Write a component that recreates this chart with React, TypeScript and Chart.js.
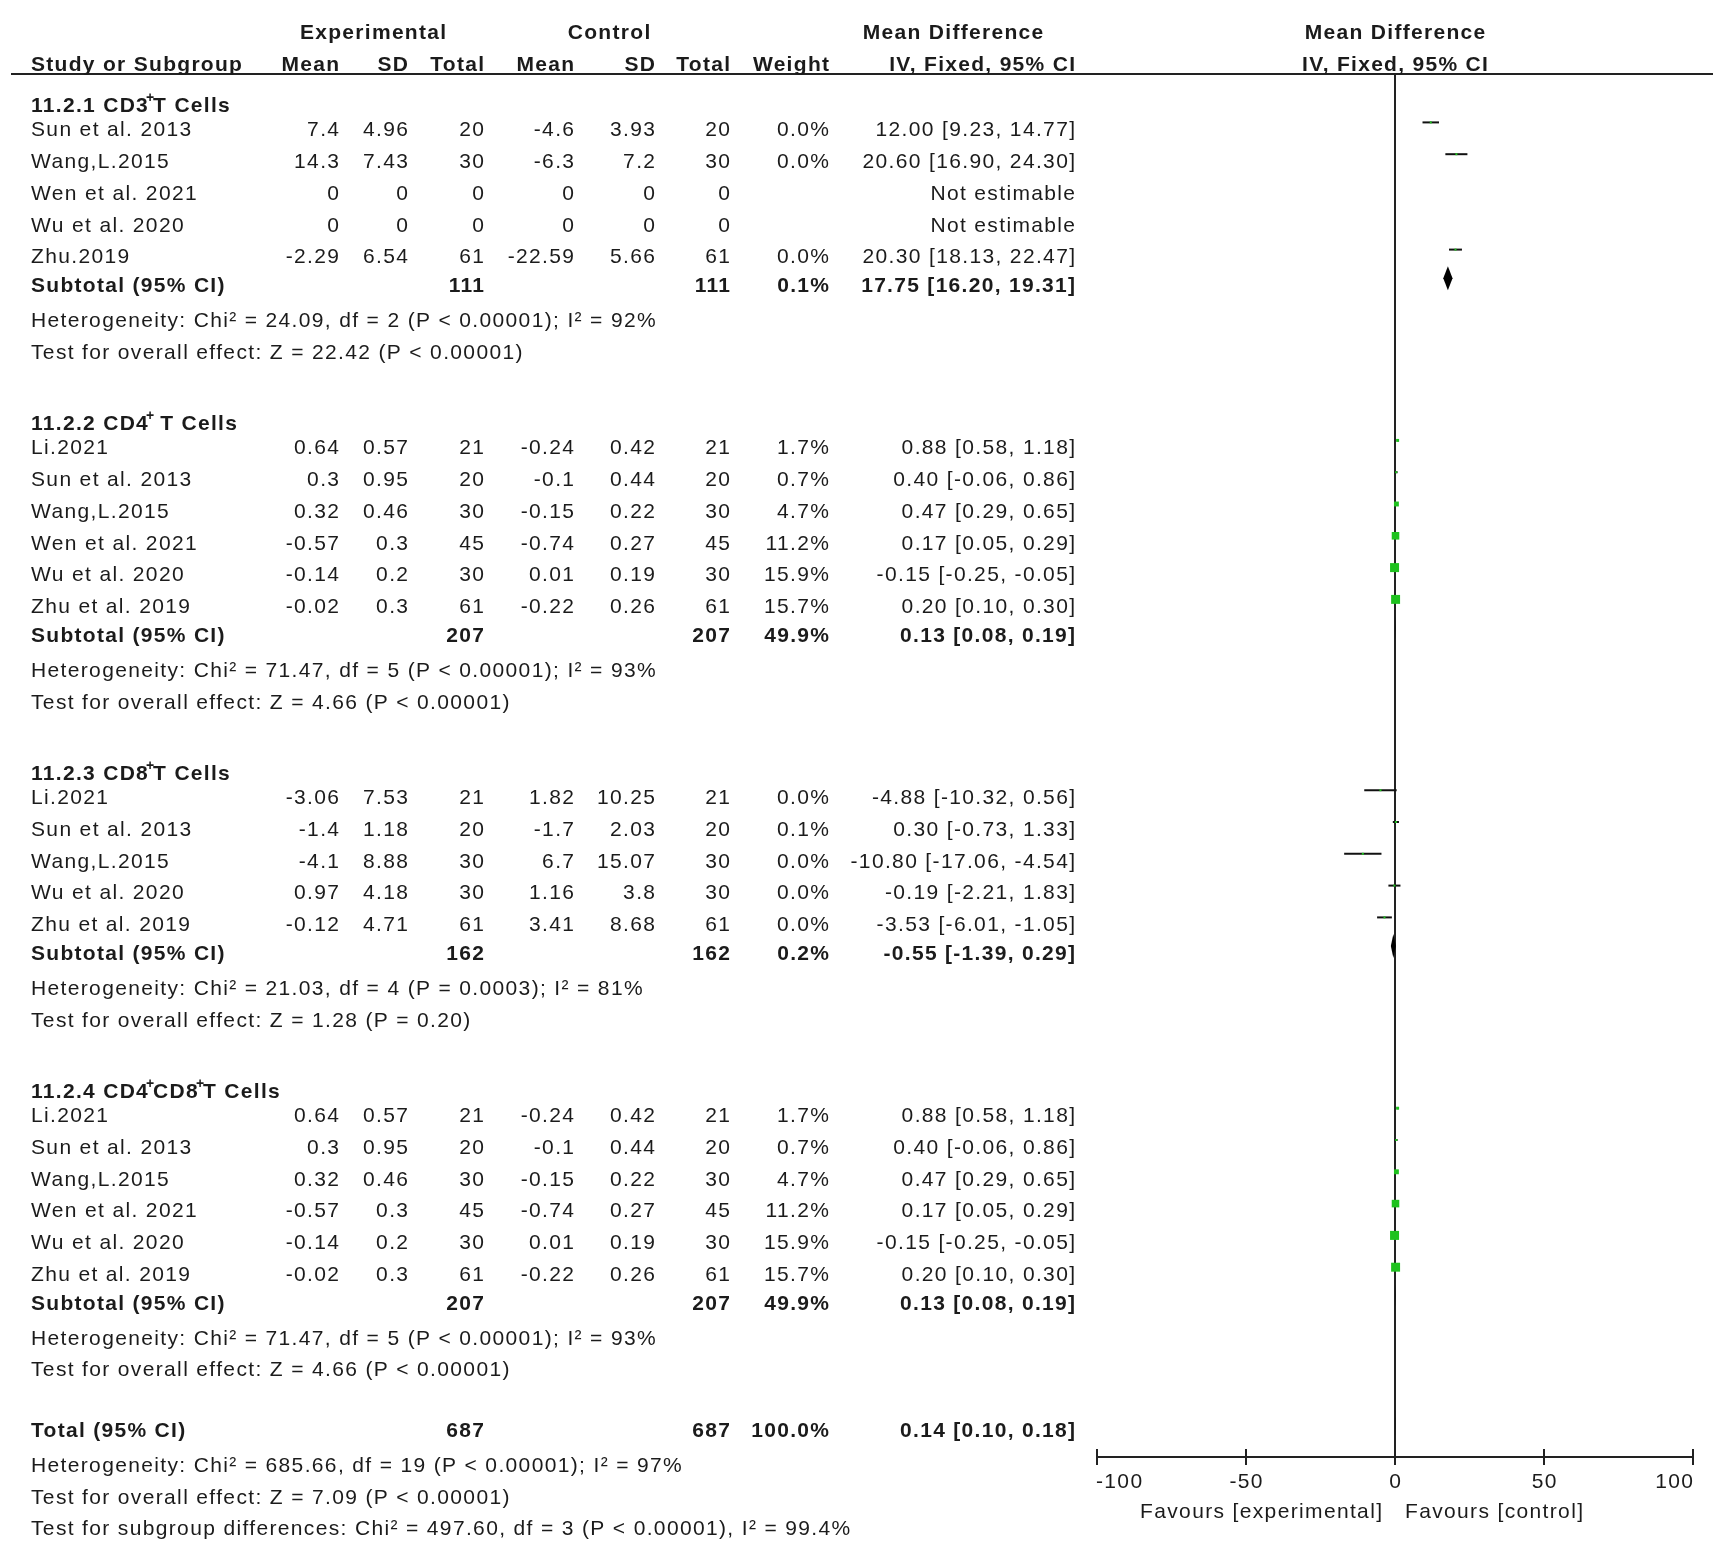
import React, { useEffect, useRef } from "react";
import { Chart, registerables } from "chart.js";

Chart.register(...registerables);

// ---------------- axis ----------------
const AXIS_TICKS = [-100, -50, 0, 50, 100];
const AXIS_LEFT_LABEL = "Favours [experimental]";
const AXIS_RIGHT_LABEL = "Favours [control]";

// ---------------- group 1 ----------------
const G1_TITLE = "11.2.1 CD3^T Cells";
const G1_NAMES = ["Sun et al. 2013", "Wang,L.2015", "Wen et al. 2021", "Wu et al. 2020", "Zhu.2019"];
const G1_EXP_MEAN = [7.4, 14.3, 0, 0, -2.29];
const G1_EXP_SD = [4.96, 7.43, 0, 0, 6.54];
const G1_EXP_N = [20, 30, 0, 0, 61];
const G1_CTL_MEAN = [-4.6, -6.3, 0, 0, -22.59];
const G1_CTL_SD = [3.93, 7.2, 0, 0, 5.66];
const G1_CTL_N = [20, 30, 0, 0, 61];
const G1_WEIGHT = [0.0, 0.0, null, null, 0.0];
const G1_MD = [12.0, 20.6, null, null, 20.3];
const G1_LO = [9.23, 16.9, null, null, 18.13];
const G1_HI = [14.77, 24.3, null, null, 22.47];
const G1_SUB = { weight: 0.1, md: 17.75, lo: 16.2, hi: 19.31 };
const G1_HET = "Chi\u00b2 = 24.09, df = 2 (P < 0.00001); I\u00b2 = 92%";
const G1_TEST = "Z = 22.42 (P < 0.00001)";

// ---------------- group 2 ----------------
const G2_TITLE = "11.2.2 CD4^ T Cells";
const G2_NAMES = ["Li.2021", "Sun et al. 2013", "Wang,L.2015", "Wen et al. 2021", "Wu et al. 2020", "Zhu et al. 2019"];
const G2_EXP_MEAN = [0.64, 0.3, 0.32, -0.57, -0.14, -0.02];
const G2_EXP_SD = [0.57, 0.95, 0.46, 0.3, 0.2, 0.3];
const G2_EXP_N = [21, 20, 30, 45, 30, 61];
const G2_CTL_MEAN = [-0.24, -0.1, -0.15, -0.74, 0.01, -0.22];
const G2_CTL_SD = [0.42, 0.44, 0.22, 0.27, 0.19, 0.26];
const G2_CTL_N = [21, 20, 30, 45, 30, 61];
const G2_WEIGHT = [1.7, 0.7, 4.7, 11.2, 15.9, 15.7];
const G2_MD = [0.88, 0.4, 0.47, 0.17, -0.15, 0.2];
const G2_LO = [0.58, -0.06, 0.29, 0.05, -0.25, 0.1];
const G2_HI = [1.18, 0.86, 0.65, 0.29, -0.05, 0.3];
const G2_SUB = { weight: 49.9, md: 0.13, lo: 0.08, hi: 0.19 };
const G2_HET = "Chi\u00b2 = 71.47, df = 5 (P < 0.00001); I\u00b2 = 93%";
const G2_TEST = "Z = 4.66 (P < 0.00001)";

// ---------------- group 3 ----------------
const G3_TITLE = "11.2.3 CD8^T Cells";
const G3_NAMES = ["Li.2021", "Sun et al. 2013", "Wang,L.2015", "Wu et al. 2020", "Zhu et al. 2019"];
const G3_EXP_MEAN = [-3.06, -1.4, -4.1, 0.97, -0.12];
const G3_EXP_SD = [7.53, 1.18, 8.88, 4.18, 4.71];
const G3_EXP_N = [21, 20, 30, 30, 61];
const G3_CTL_MEAN = [1.82, -1.7, 6.7, 1.16, 3.41];
const G3_CTL_SD = [10.25, 2.03, 15.07, 3.8, 8.68];
const G3_CTL_N = [21, 20, 30, 30, 61];
const G3_WEIGHT = [0.0, 0.1, 0.0, 0.0, 0.0];
const G3_MD = [-4.88, 0.3, -10.8, -0.19, -3.53];
const G3_LO = [-10.32, -0.73, -17.06, -2.21, -6.01];
const G3_HI = [0.56, 1.33, -4.54, 1.83, -1.05];
const G3_SUB = { weight: 0.2, md: -0.55, lo: -1.39, hi: 0.29 };
const G3_HET = "Chi\u00b2 = 21.03, df = 4 (P = 0.0003); I\u00b2 = 81%";
const G3_TEST = "Z = 1.28 (P = 0.20)";

// ---------------- group 4 ----------------
const G4_TITLE = "11.2.4 CD4^CD8^T Cells";
const G4_NAMES = ["Li.2021", "Sun et al. 2013", "Wang,L.2015", "Wen et al. 2021", "Wu et al. 2020", "Zhu et al. 2019"];
const G4_EXP_MEAN = [0.64, 0.3, 0.32, -0.57, -0.14, -0.02];
const G4_EXP_SD = [0.57, 0.95, 0.46, 0.3, 0.2, 0.3];
const G4_EXP_N = [21, 20, 30, 45, 30, 61];
const G4_CTL_MEAN = [-0.24, -0.1, -0.15, -0.74, 0.01, -0.22];
const G4_CTL_SD = [0.42, 0.44, 0.22, 0.27, 0.19, 0.26];
const G4_CTL_N = [21, 20, 30, 45, 30, 61];
const G4_WEIGHT = [1.7, 0.7, 4.7, 11.2, 15.9, 15.7];
const G4_MD = [0.88, 0.4, 0.47, 0.17, -0.15, 0.2];
const G4_LO = [0.58, -0.06, 0.29, 0.05, -0.25, 0.1];
const G4_HI = [1.18, 0.86, 0.65, 0.29, -0.05, 0.3];
const G4_SUB = { weight: 49.9, md: 0.13, lo: 0.08, hi: 0.19 };
const G4_HET = "Chi\u00b2 = 71.47, df = 5 (P < 0.00001); I\u00b2 = 93%";
const G4_TEST = "Z = 4.66 (P < 0.00001)";

// ---------------- overall ----------------
const TOTAL = { weight: 100.0, md: 0.14, lo: 0.1, hi: 0.18 };
const TOTAL_HET = "Chi\u00b2 = 685.66, df = 19 (P < 0.00001); I\u00b2 = 97%";
const TOTAL_TEST = "Z = 7.09 (P < 0.00001)";
const SUBGROUP_TEST = "Chi\u00b2 = 497.60, df = 3 (P < 0.00001), I\u00b2 = 99.4%";

const GROUPS = [
  { title: G1_TITLE, names: G1_NAMES, em: G1_EXP_MEAN, esd: G1_EXP_SD, en: G1_EXP_N, cm: G1_CTL_MEAN, csd: G1_CTL_SD, cn: G1_CTL_N, w: G1_WEIGHT, md: G1_MD, lo: G1_LO, hi: G1_HI, sub: G1_SUB, het: G1_HET, test: G1_TEST },
  { title: G2_TITLE, names: G2_NAMES, em: G2_EXP_MEAN, esd: G2_EXP_SD, en: G2_EXP_N, cm: G2_CTL_MEAN, csd: G2_CTL_SD, cn: G2_CTL_N, w: G2_WEIGHT, md: G2_MD, lo: G2_LO, hi: G2_HI, sub: G2_SUB, het: G2_HET, test: G2_TEST },
  { title: G3_TITLE, names: G3_NAMES, em: G3_EXP_MEAN, esd: G3_EXP_SD, en: G3_EXP_N, cm: G3_CTL_MEAN, csd: G3_CTL_SD, cn: G3_CTL_N, w: G3_WEIGHT, md: G3_MD, lo: G3_LO, hi: G3_HI, sub: G3_SUB, het: G3_HET, test: G3_TEST },
  { title: G4_TITLE, names: G4_NAMES, em: G4_EXP_MEAN, esd: G4_EXP_SD, en: G4_EXP_N, cm: G4_CTL_MEAN, csd: G4_CTL_SD, cn: G4_CTL_N, w: G4_WEIGHT, md: G4_MD, lo: G4_LO, hi: G4_HI, sub: G4_SUB, het: G4_HET, test: G4_TEST },
];

// ---------------- layout (row units) ----------------
const LAYOUT = (() => {
  let s = 0;
  const groups = GROUPS.map((g) => {
    const n = g.names.length;
    const r = { start: s, header: s - 0.76, subtotal: s + n - 0.1, het: s + n + 1, test: s + n + 2 };
    s = s + n + 5;
    return r;
  });
  return { groups, total: s - 1.1, totalHet: s, totalTest: s + 1, subgroup: s + 2 };
})();

const W = 1725;
const H = 1547;
const TOP_PX = 74;
const AXIS_PX = 1457;
const FIRST_ROW_PX = 122.4;
const ROW_STEP = 31.8;
const Y_MIN = (TOP_PX - FIRST_ROW_PX) / ROW_STEP;
const Y_MAX = (AXIS_PX - FIRST_ROW_PX) / ROW_STEP;
const PLOT_LEFT = 1097;
const PLOT_RIGHT = 1693;
const TEXT_DY = 13.8;

const COL = { name: 31, em: 339, esd: 408, en: 484, cm: 574, csd: 655, cn: 730, w: 829, md: 1075 };

const FONT_FAMILY = '"Liberation Sans", Arial, sans-serif';
const TEXT_COLOR = "#1b1b1b";
const GREEN = "#1ec21e";
const SPACING_REGULAR = 1.35;
const SPACING_BOLD = 1.3;

function fmtCI(md: number, lo: number, hi: number) {
  return `${md.toFixed(2)} [${lo.toFixed(2)}, ${hi.toFixed(2)}]`;
}

function setFont(ctx: any, bold: boolean, size = 21) {
  ctx.font = `${bold ? "bold " : ""}${size}px ${FONT_FAMILY}`;
  const sp = (bold ? SPACING_BOLD : SPACING_REGULAR) * (size / 21);
  try {
    ctx.letterSpacing = `${sp}px`;
  } catch (e) {}
  return sp;
}

function txt(ctx: any, s: string, x: number, y: number, align: "left" | "right" | "center", bold = false, size = 21) {
  const sp = setFont(ctx, bold, size);
  ctx.textAlign = "left";
  ctx.textBaseline = "alphabetic";
  const w = ctx.measureText(s).width - sp;
  let left = x;
  if (align === "right") left = x - w;
  else if (align === "center") left = x - w / 2;
  ctx.fillText(s, left, y);
}

function richTitle(ctx: any, s: string, x: number, y: number) {
  const parts = s.split("^");
  let cx = x;
  parts.forEach((p, i) => {
    if (p.length) {
      setFont(ctx, true, 21);
      ctx.textAlign = "left";
      ctx.fillText(p, cx, y);
      cx += ctx.measureText(p).width;
    }
    if (i < parts.length - 1) {
      setFont(ctx, true, 14);
      ctx.fillText("+", cx - 3, y - 10);
      cx += ctx.measureText("+").width - 5;
    }
  });
}

const forestPlugin = {
  id: "forestPlugin",
  beforeDraw(chart: any) {
    const ctx = chart.ctx;
    ctx.save();
    ctx.fillStyle = "#ffffff";
    ctx.fillRect(0, 0, chart.width, chart.height);
    ctx.restore();
  },
  beforeDatasetsDraw(chart: any) {
    const ctx = chart.ctx;
    const xs = chart.scales.x;
    ctx.save();
    ctx.strokeStyle = "#222";
    ctx.lineWidth = 2;
    ctx.beginPath();
    ctx.moveTo(11, TOP_PX);
    ctx.lineTo(1713, TOP_PX);
    ctx.stroke();
    const x0 = xs.getPixelForValue(0);
    ctx.beginPath();
    ctx.moveTo(x0, TOP_PX);
    ctx.lineTo(x0, AXIS_PX);
    ctx.stroke();
    ctx.beginPath();
    ctx.moveTo(xs.getPixelForValue(AXIS_TICKS[0]), AXIS_PX);
    ctx.lineTo(xs.getPixelForValue(AXIS_TICKS[AXIS_TICKS.length - 1]), AXIS_PX);
    ctx.stroke();
    AXIS_TICKS.forEach((t) => {
      const px = xs.getPixelForValue(t);
      ctx.beginPath();
      ctx.moveTo(px, AXIS_PX - 8);
      ctx.lineTo(px, AXIS_PX + 8);
      ctx.stroke();
    });
    ctx.restore();
  },
  afterDatasetsDraw(chart: any) {
    const ctx = chart.ctx;
    const xs = chart.scales.x;
    const ys = chart.scales.y;
    const diamonds = GROUPS.map((g, i) => ({ ...g.sub, row: LAYOUT.groups[i].subtotal }));
    diamonds.push({ ...TOTAL, row: LAYOUT.total });
    ctx.save();
    ctx.fillStyle = "#000";
    diamonds.forEach((d) => {
      const y = ys.getPixelForValue(d.row);
      const l = xs.getPixelForValue(d.lo);
      const m = xs.getPixelForValue(d.md);
      const r = xs.getPixelForValue(d.hi);
      ctx.beginPath();
      ctx.moveTo(l, y);
      ctx.lineTo(m, y - 12);
      ctx.lineTo(r, y);
      ctx.lineTo(m, y + 12);
      ctx.closePath();
      ctx.fill();
    });
    ctx.restore();
  },
  afterDraw(chart: any) {
    const ctx = chart.ctx;
    const xs = chart.scales.x;
    const ys = chart.scales.y;
    const base = (row: number) => ys.getPixelForValue(row) + TEXT_DY;
    ctx.save();
    ctx.fillStyle = TEXT_COLOR;

    txt(ctx, "Experimental", 373, 39, "center", true);
    txt(ctx, "Control", 609, 39, "center", true);
    txt(ctx, "Mean Difference", 953, 39, "center", true);
    txt(ctx, "Mean Difference", xs.getPixelForValue(0), 39, "center", true);
    txt(ctx, "Study or Subgroup", COL.name, 71, "left", true);
    txt(ctx, "Mean", COL.em, 71, "right", true);
    txt(ctx, "SD", COL.esd, 71, "right", true);
    txt(ctx, "Total", COL.en, 71, "right", true);
    txt(ctx, "Mean", COL.cm, 71, "right", true);
    txt(ctx, "SD", COL.csd, 71, "right", true);
    txt(ctx, "Total", COL.cn, 71, "right", true);
    txt(ctx, "Weight", COL.w, 71, "right", true);
    txt(ctx, "IV, Fixed, 95% CI", COL.md, 71, "right", true);
    txt(ctx, "IV, Fixed, 95% CI", xs.getPixelForValue(0), 71, "center", true);

    let grandE = 0;
    let grandC = 0;
    GROUPS.forEach((g, gi) => {
      const L = LAYOUT.groups[gi];
      richTitle(ctx, g.title, COL.name, base(L.header));
      g.names.forEach((name, i) => {
        const y = base(L.start + i);
        txt(ctx, name, COL.name, y, "left");
        txt(ctx, String(g.em[i]), COL.em, y, "right");
        txt(ctx, String(g.esd[i]), COL.esd, y, "right");
        txt(ctx, String(g.en[i]), COL.en, y, "right");
        txt(ctx, String(g.cm[i]), COL.cm, y, "right");
        txt(ctx, String(g.csd[i]), COL.csd, y, "right");
        txt(ctx, String(g.cn[i]), COL.cn, y, "right");
        const w = g.w[i];
        if (w !== null) txt(ctx, `${w.toFixed(1)}%`, COL.w, y, "right");
        const md = g.md[i];
        if (md === null) txt(ctx, "Not estimable", COL.md, y, "right");
        else txt(ctx, fmtCI(md, g.lo[i] as number, g.hi[i] as number), COL.md, y, "right");
      });
      const sumE = g.en.reduce((a, b) => a + b, 0);
      const sumC = g.cn.reduce((a, b) => a + b, 0);
      grandE += sumE;
      grandC += sumC;
      const ys2 = base(L.subtotal);
      txt(ctx, "Subtotal (95% CI)", COL.name, ys2, "left", true);
      txt(ctx, String(sumE), COL.en, ys2, "right", true);
      txt(ctx, String(sumC), COL.cn, ys2, "right", true);
      txt(ctx, `${g.sub.weight.toFixed(1)}%`, COL.w, ys2, "right", true);
      txt(ctx, fmtCI(g.sub.md, g.sub.lo, g.sub.hi), COL.md, ys2, "right", true);
      txt(ctx, `Heterogeneity: ${g.het}`, COL.name, base(L.het), "left");
      txt(ctx, `Test for overall effect: ${g.test}`, COL.name, base(L.test), "left");
    });

    const yt = base(LAYOUT.total);
    txt(ctx, "Total (95% CI)", COL.name, yt, "left", true);
    txt(ctx, String(grandE), COL.en, yt, "right", true);
    txt(ctx, String(grandC), COL.cn, yt, "right", true);
    txt(ctx, `${TOTAL.weight.toFixed(1)}%`, COL.w, yt, "right", true);
    txt(ctx, fmtCI(TOTAL.md, TOTAL.lo, TOTAL.hi), COL.md, yt, "right", true);
    txt(ctx, `Heterogeneity: ${TOTAL_HET}`, COL.name, base(LAYOUT.totalHet), "left");
    txt(ctx, `Test for overall effect: ${TOTAL_TEST}`, COL.name, base(LAYOUT.totalTest), "left");
    txt(ctx, `Test for subgroup differences: ${SUBGROUP_TEST}`, COL.name, base(LAYOUT.subgroup), "left");

    AXIS_TICKS.forEach((t, i) => {
      const px = xs.getPixelForValue(t);
      const align = i === 0 ? "left" : i === AXIS_TICKS.length - 1 ? "right" : "center";
      txt(ctx, String(t), px + (i === 0 ? -1 : 0), 1488, align);
    });
    const x0 = xs.getPixelForValue(0);
    txt(ctx, AXIS_LEFT_LABEL, x0 - 13, 1518, "right");
    txt(ctx, AXIS_RIGHT_LABEL, x0 + 10, 1518, "left");
    ctx.restore();
  },
};

function buildDatasets() {
  const datasets: any[] = [];
  const squares: any[] = [];
  const radii: number[] = [];
  GROUPS.forEach((g, gi) => {
    const L = LAYOUT.groups[gi];
    g.names.forEach((name, i) => {
      const md = g.md[i];
      if (md === null) return;
      const row = L.start + i;
      datasets.push({
        label: `${name} CI`,
        data: [
          { x: g.lo[i], y: row },
          { x: g.hi[i], y: row },
        ],
        showLine: true,
        borderColor: "#111",
        borderWidth: 2,
        pointRadius: 0,
        order: 2,
      });
      squares.push({ x: md, y: row });
      const side = Math.max(2, 2.26 * Math.sqrt(g.w[i] as number));
      radii.push(side / Math.SQRT2);
    });
  });
  datasets.push({
    label: "Study estimates",
    data: squares,
    pointStyle: "rect",
    pointRadius: radii,
    backgroundColor: GREEN,
    borderWidth: 0,
    showLine: false,
    order: 1,
  });
  return datasets;
}

export default function App() {
  const ref = useRef<HTMLCanvasElement>(null);
  useEffect(() => {
    if (!ref.current) return;
    const chart = new Chart(ref.current, {
      type: "scatter",
      data: { datasets: buildDatasets() },
      options: {
        animation: false,
        responsive: false,
        devicePixelRatio: 1,
        events: [],
        layout: { padding: { left: PLOT_LEFT, right: W - PLOT_RIGHT, top: TOP_PX, bottom: H - AXIS_PX } },
        plugins: { legend: { display: false }, tooltip: { enabled: false } },
        scales: {
          x: { type: "linear", min: AXIS_TICKS[0], max: AXIS_TICKS[AXIS_TICKS.length - 1], display: false },
          y: { type: "linear", min: Y_MIN, max: Y_MAX, reverse: true, display: false },
        },
      },
      plugins: [forestPlugin],
    } as any);
    return () => chart.destroy();
  }, []);
  return (
    <div style={{ position: "absolute", left: 0, top: 0, width: W, height: H, background: "#fff" }}>
      <canvas ref={ref} width={W} height={H} style={{ display: "block", width: W, height: H }} />
    </div>
  );
}
